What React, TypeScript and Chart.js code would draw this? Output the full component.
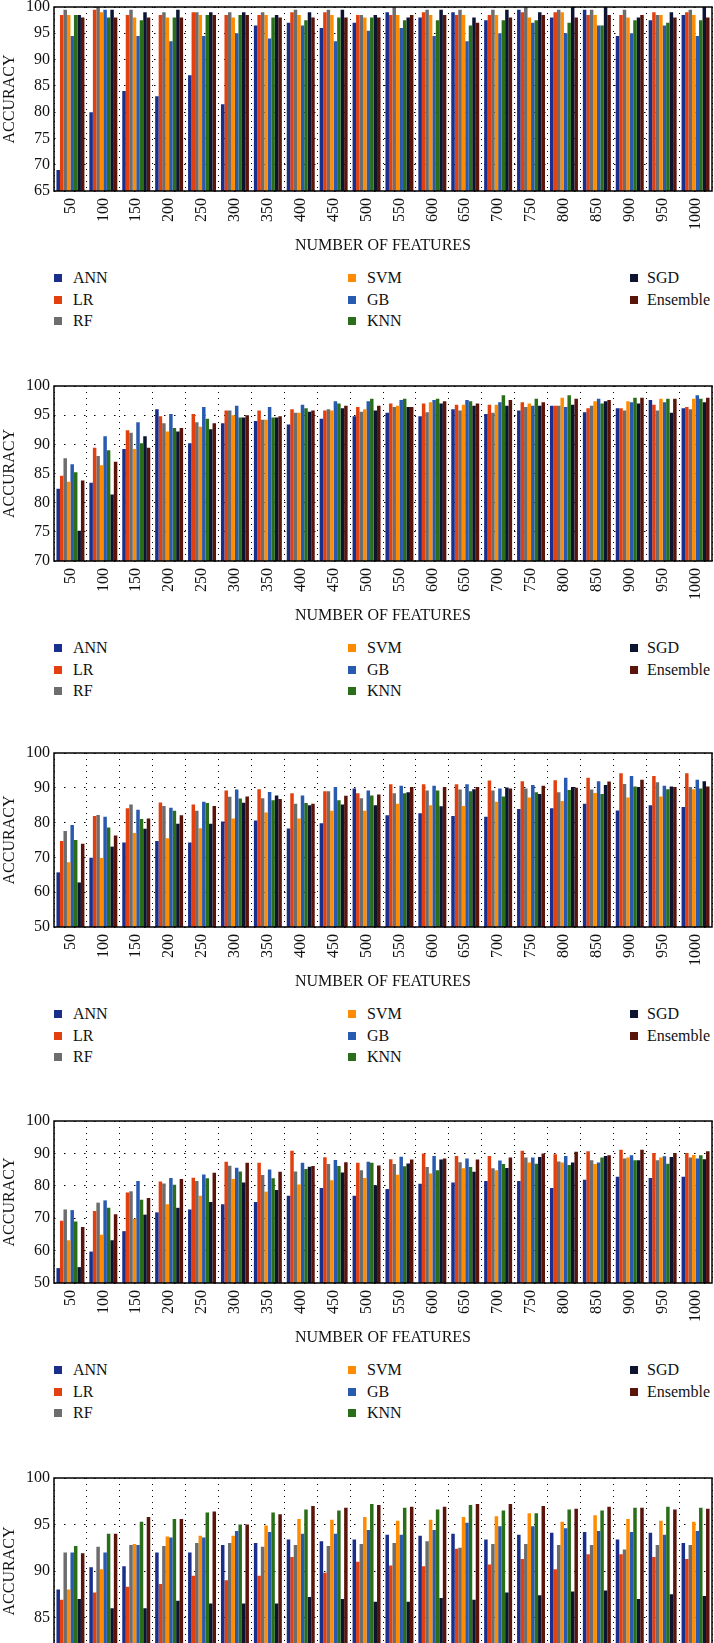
import React, { useEffect, useRef } from "react";
import { Chart, registerables } from "chart.js";

Chart.register(...registerables);

const categories = ["50", "100", "150", "200", "250", "300", "350", "400", "450", "500", "550", "600", "650", "700", "750", "800", "850", "900", "950", "1000"];
const seriesNames = ["ANN", "LR", "RF", "SVM", "GB", "KNN", "SGD", "Ensemble"];
const seriesColors = ["#1a2e8c", "#e2400e", "#6d6d6d", "#ff8c00", "#285ab0", "#2a6e1a", "#0c1432", "#5a140a"];

// Panel 1 (y 65-100)
const p1ANN = [69, 80, 84, 83, 87, 81.5, 96.5, 97, 96, 97, 99, 98, 99, 97.5, 99.5, 98, 99.5, 94.5, 97.5, 98.5];
const p1LR = [98.5, 99.5, 98.5, 98.5, 99, 98.5, 98.5, 99, 99, 98.5, 98.5, 99, 98.5, 98.5, 99, 99, 98.5, 98.5, 99, 99];
const p1RF = [99.5, 100, 99.5, 99, 99, 99, 99, 99.5, 99.5, 98.5, 100, 99.5, 99.5, 99.5, 100, 99.5, 99.5, 99.5, 98.5, 99.5];
const p1SVM = [98.5, 99, 98, 98, 98.5, 98, 98.5, 98.5, 98.5, 98, 98.5, 98.5, 98.5, 98.5, 98, 99, 98.5, 98, 98.5, 98.5];
const p1GB = [94.5, 99.5, 94.5, 93.5, 94.5, 95, 94, 96.5, 93.5, 95.5, 96, 94.5, 93.5, 95, 97, 95, 96.5, 95, 96.5, 94.5];
const p1KNN = [98.5, 98, 97.5, 98, 98.5, 98.5, 98, 97.5, 98, 98, 97.5, 97.5, 96.5, 97.5, 97.5, 97, 96.5, 97.5, 97, 97.5];
const p1SGD = [98.5, 99.5, 99, 99.5, 99, 99, 98.5, 99, 99.5, 98.5, 98, 99.5, 98, 99.5, 99, 100, 100, 98, 99, 100];
const p1Ens = [98, 98, 98, 98, 98.5, 98.5, 98, 98, 98, 98, 98.5, 98.5, 97, 98, 98.5, 98, 98.5, 98.5, 98, 98];

// Panel 2 (y 70-100)
const p2ANN = [82.4, 83.4, 89.2, 96.0, 90.2, 93.6, 94.0, 93.4, 94.4, 94.8, 95.4, 94.8, 96.0, 95.2, 95.8, 96.6, 95.5, 96.2, 97.6, 96.2];
const p2LR = [84.6, 89.4, 92.4, 94.8, 95.2, 95.8, 95.8, 96.0, 95.8, 96.4, 97.0, 97.0, 96.8, 96.8, 97.2, 96.6, 96.2, 96.2, 96.8, 96.4];
const p2RF = [87.6, 88.0, 92.0, 93.6, 93.8, 95.8, 94.2, 95.4, 96.0, 95.6, 96.4, 95.5, 95.8, 95.4, 96.4, 96.6, 96.6, 95.8, 95.8, 96.0];
const p2SVM = [83.6, 86.4, 89.2, 92.2, 93.0, 95.0, 94.2, 95.4, 95.8, 96.0, 96.6, 97.2, 96.8, 96.8, 97.0, 98.0, 97.4, 97.4, 97.8, 97.8];
const p2GB = [86.6, 91.4, 93.8, 95.2, 96.4, 96.6, 96.4, 96.8, 97.4, 97.4, 97.6, 97.6, 97.6, 97.2, 96.6, 96.4, 97.8, 97.2, 97.2, 98.4];
const p2KNN = [85.2, 89.0, 90.2, 92.8, 94.4, 94.6, 94.6, 96.2, 97.0, 97.8, 97.8, 97.8, 97.4, 98.4, 97.8, 98.4, 97.0, 98.0, 97.8, 97.8];
const p2SGD = [75.2, 81.4, 91.4, 92.2, 92.6, 94.6, 94.6, 95.6, 96.2, 95.8, 96.4, 97.0, 96.6, 96.6, 96.6, 96.8, 97.4, 97.0, 95.4, 97.2];
const p2Ens = [83.8, 87.0, 89.4, 92.8, 93.6, 95.0, 94.8, 95.8, 96.6, 96.6, 96.4, 97.4, 97.0, 97.6, 97.2, 97.8, 97.6, 98.0, 97.8, 98.0];

// Panel 3 (y 50-100)
const p3ANN = [65.7, 69.9, 74.3, 74.7, 74.3, 80.3, 80.6, 78.3, 79.8, 89.8, 82.1, 82.7, 81.9, 81.7, 83.9, 84.1, 85.4, 83.5, 85.0, 84.5];
const p3LR = [74.7, 81.9, 84.1, 85.8, 85.2, 89.2, 89.6, 88.4, 89.0, 88.4, 91.0, 91.0, 91.0, 92.1, 91.9, 92.2, 92.9, 94.2, 93.4, 94.2];
const p3RF = [77.6, 82.2, 85.2, 84.8, 83.4, 87.4, 87.0, 85.4, 89.0, 87.0, 88.4, 89.2, 89.5, 89.2, 89.8, 88.7, 89.5, 91.1, 91.6, 90.2];
const p3SVM = [68.6, 69.8, 77.0, 75.5, 78.4, 81.2, 82.9, 81.2, 83.4, 83.4, 85.4, 85.0, 84.8, 86.0, 87.2, 86.2, 88.5, 87.2, 87.5, 89.6];
const p3GB = [79.3, 81.7, 83.7, 84.3, 86.0, 89.5, 88.8, 87.8, 90.2, 89.2, 90.6, 90.6, 91.0, 89.8, 90.8, 92.9, 91.9, 93.4, 90.6, 92.3];
const p3KNN = [75.0, 78.6, 81.0, 83.4, 85.6, 86.9, 86.4, 85.6, 86.4, 87.8, 88.4, 89.2, 89.0, 87.5, 88.7, 89.4, 88.2, 90.4, 89.6, 89.8];
const p3SGD = [62.8, 73.1, 78.2, 79.7, 79.7, 85.7, 87.8, 85.0, 85.2, 85.0, 88.7, 84.7, 89.6, 90.1, 88.2, 90.2, 90.8, 90.2, 90.4, 91.9];
const p3Ens = [73.9, 76.3, 81.2, 82.1, 84.8, 87.5, 86.8, 85.4, 87.7, 88.1, 90.2, 90.2, 90.2, 89.8, 90.6, 90.0, 91.8, 92.3, 90.2, 90.4];

// Panel 4 (y 50-100)
const p4ANN = [54.6, 59.7, 66.0, 71.8, 72.7, 74.3, 75.0, 76.9, 79.3, 76.9, 79.0, 80.6, 81.0, 81.5, 81.5, 79.3, 81.9, 82.8, 82.4, 82.8];
const p4LR = [69.2, 72.2, 77.9, 81.3, 82.5, 87.4, 87.1, 90.8, 88.8, 87.1, 88.2, 90.0, 89.2, 89.2, 90.8, 89.7, 90.7, 91.1, 90.1, 90.1];
const p4RF = [72.7, 74.8, 78.3, 80.7, 81.5, 86.2, 83.3, 84.4, 86.7, 84.8, 86.7, 85.8, 87.3, 85.4, 88.7, 87.5, 87.9, 88.4, 87.9, 88.7];
const p4SVM = [63.2, 64.9, 69.8, 74.3, 76.9, 82.1, 78.2, 80.4, 81.7, 82.4, 83.4, 83.8, 85.4, 84.8, 87.2, 87.2, 86.7, 88.7, 88.7, 89.5];
const p4GB = [72.5, 75.5, 81.5, 82.4, 83.5, 85.6, 85.0, 87.1, 88.0, 87.4, 89.0, 89.2, 88.4, 87.8, 88.7, 89.2, 87.2, 89.4, 89.1, 88.4];
const p4KNN = [69.0, 73.2, 75.7, 80.3, 82.3, 84.4, 82.3, 85.2, 86.1, 87.1, 86.0, 84.8, 85.8, 86.7, 86.8, 86.4, 88.7, 87.9, 86.8, 89.4];
const p4SGD = [54.9, 63.2, 71.1, 73.2, 75.0, 81.0, 78.7, 85.9, 84.1, 80.2, 86.9, 88.1, 84.3, 85.5, 88.9, 87.2, 89.2, 87.9, 88.9, 88.2];
const p4Ens = [67.3, 71.2, 76.2, 82.1, 84.0, 87.1, 84.3, 86.1, 87.3, 86.3, 88.1, 88.4, 88.1, 88.7, 90.0, 90.5, 89.4, 91.1, 90.1, 90.7];

// Panel 5 (y 80-100)
const p5ANN = [88.0, 90.4, 90.5, 92.0, 92.0, 92.8, 93.0, 93.4, 93.2, 93.4, 93.9, 93.8, 94.0, 93.4, 93.9, 94.1, 94.2, 93.4, 94.1, 93.0];
const p5LR = [86.9, 87.7, 88.3, 88.6, 89.5, 89.0, 89.5, 91.5, 89.8, 91.0, 90.6, 90.5, 92.4, 90.7, 91.3, 90.2, 91.8, 91.8, 91.5, 91.3];
const p5RF = [92.0, 92.6, 92.8, 92.7, 93.0, 93.0, 92.6, 92.8, 92.7, 92.9, 93.0, 93.2, 92.5, 92.9, 92.9, 92.8, 92.8, 92.3, 92.8, 92.8];
const p5SVM = [88.0, 90.2, 92.9, 93.7, 93.8, 93.8, 94.9, 95.6, 95.5, 95.8, 95.4, 95.5, 95.8, 95.9, 96.2, 95.3, 96.0, 95.6, 95.4, 95.3];
const p5GB = [92.0, 92.0, 92.8, 93.6, 93.6, 94.3, 94.2, 94.0, 94.0, 94.4, 93.9, 94.4, 95.2, 94.8, 94.8, 94.6, 94.3, 94.2, 93.9, 94.3];
const p5KNN = [92.7, 94.0, 95.3, 95.6, 96.3, 95.0, 96.3, 96.6, 96.5, 97.2, 96.8, 96.6, 97.1, 96.5, 96.2, 96.6, 96.5, 96.8, 96.9, 96.8];
const p5SGD = [87.0, 86.0, 86.0, 86.8, 86.5, 86.5, 86.5, 87.2, 87.0, 86.7, 86.7, 87.1, 86.9, 87.7, 87.4, 87.8, 87.9, 87.0, 87.5, 87.3];
const p5Ens = [91.9, 94.0, 95.8, 95.6, 96.4, 95.0, 96.1, 97.0, 96.8, 97.1, 96.9, 96.9, 97.2, 97.2, 97.0, 96.7, 96.9, 96.8, 96.6, 96.7];

const FONT = "'Liberation Serif', 'Times New Roman', serif";
const TEXT = "#111";
const PAD_TOP = 7;
const AXIS_H = 64;
const Y_W = 54;

const panels = [
  { plotTop: 7, plotH: 184, min: 65, max: 100, step: 5, series: [p1ANN, p1LR, p1RF, p1SVM, p1GB, p1KNN, p1SGD, p1Ens] },
  { plotTop: 386, plotH: 175, min: 70, max: 100, step: 5, series: [p2ANN, p2LR, p2RF, p2SVM, p2GB, p2KNN, p2SGD, p2Ens] },
  { plotTop: 753, plotH: 174, min: 50, max: 100, step: 10, series: [p3ANN, p3LR, p3RF, p3SVM, p3GB, p3KNN, p3SGD, p3Ens] },
  { plotTop: 1121, plotH: 162, min: 50, max: 100, step: 10, series: [p4ANN, p4LR, p4RF, p4SVM, p4GB, p4KNN, p4SGD, p4Ens] },
  { plotTop: 1478, plotH: 186, min: 80, max: 100, step: 5, series: [p5ANN, p5LR, p5RF, p5SVM, p5GB, p5KNN, p5SGD, p5Ens] },
];

const framePlugin = {
  id: "frame",
  afterDatasetsDraw(chart: any) {
    const { ctx, chartArea } = chart;
    const { left, top, right, bottom } = chartArea;
    ctx.save();
    ctx.strokeStyle = "#000";
    ctx.lineWidth = 1.5;
    ctx.strokeRect(left, top, right - left, bottom - top);
    ctx.restore();
  },
};

const legendCols = [
  { marker: 54, text: 73, items: [0, 1, 2] },
  { marker: 348, text: 367, items: [3, 4, 5] },
  { marker: 630, text: 647, items: [6, 7] },
];

function Panel({ cfg }: { cfg: any }) {
  const ref = useRef<HTMLCanvasElement>(null);
  const height = PAD_TOP + cfg.plotH + AXIS_H;
  const canvasTop = cfg.plotTop - PAD_TOP;
  useEffect(() => {
    const chart = new Chart(ref.current as HTMLCanvasElement, {
      type: "bar",
      data: {
        labels: categories,
        datasets: seriesNames.map((name, i) => ({
          label: name,
          data: cfg.series[i],
          backgroundColor: seriesColors[i],
          borderWidth: 0,
          categoryPercentage: 0.85,
          barPercentage: 1,
        })),
      },
      options: {
        responsive: false,
        animation: false,
        devicePixelRatio: 1,
        layout: { padding: { top: PAD_TOP, left: 0, right: 2, bottom: 0 } },
        plugins: { legend: { display: false }, tooltip: { enabled: false } },
        scales: {
          x: {
            grid: { color: "#000", lineWidth: 1, drawTicks: false, offset: true },
            border: { display: false, dash: [1, 5] },
            ticks: {
              autoSkip: false,
              minRotation: 90,
              maxRotation: 90,
              padding: 7,
              color: TEXT,
              font: { family: FONT, size: 16 },
            },
            title: {
              display: true,
              text: "NUMBER OF FEATURES",
              color: TEXT,
              font: { family: FONT, size: 16 },
              padding: 0,
            },
            afterFit: (s: any) => {
              s.height = AXIS_H;
              s.paddingLeft = 0;
              s.paddingRight = 0;
            },
          },
          y: {
            min: cfg.min,
            max: cfg.max,
            grid: { color: "#000", lineWidth: 1, drawTicks: false },
            border: { display: false, dash: [1.5, 8.5] },
            ticks: { stepSize: cfg.step, padding: 4, color: TEXT, font: { family: FONT, size: 16 } },
            title: {
              display: true,
              text: "ACCURACY",
              color: TEXT,
              font: { family: FONT, size: 16 },
              padding: 0,
            },
            afterFit: (s: any) => {
              s.width = Y_W;
              s.paddingTop = 0;
              s.paddingBottom = 0;
            },
          },
        },
      } as any,
      plugins: [framePlugin],
    });
    return () => chart.destroy();
  }, []);

  const plotBottom = cfg.plotTop + cfg.plotH;
  const legendRow0 = plotBottom + 87;
  return (
    <>
      <canvas
        ref={ref}
        width={714}
        height={height}
        style={{ position: "absolute", left: 0, top: canvasTop, width: 714, height }}
      />
      {legendCols.map((col) =>
        col.items.map((si, r) => {
          const cy = legendRow0 + r * 21.5;
          return (
            <React.Fragment key={si}>
              <div
                style={{
                  position: "absolute",
                  left: col.marker,
                  top: cy - 4,
                  width: 8,
                  height: 8,
                  background: seriesColors[si],
                }}
              />
              <div
                style={{
                  position: "absolute",
                  left: col.text,
                  top: cy - 10,
                  height: 20,
                  lineHeight: "20px",
                  fontFamily: FONT,
                  fontSize: 16,
                  color: TEXT,
                  whiteSpace: "nowrap",
                }}
              >
                {seriesNames[si]}
              </div>
            </React.Fragment>
          );
        })
      )}
    </>
  );
}

export default function App() {
  return (
    <div
      style={{
        position: "absolute",
        left: 0,
        top: 0,
        width: 714,
        height: 1643,
        overflow: "hidden",
        background: "#fff",
      }}
    >
      {panels.map((cfg, i) => (
        <Panel key={i} cfg={cfg} />
      ))}
    </div>
  );
}
